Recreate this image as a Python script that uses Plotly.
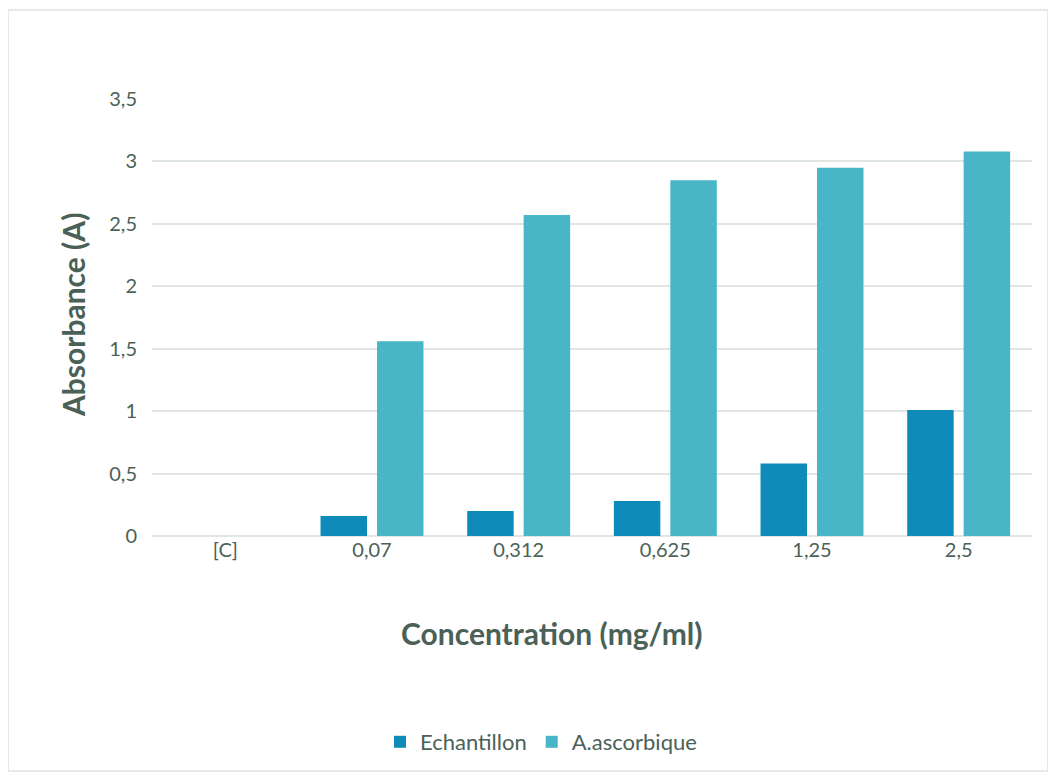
import plotly.graph_objects as go

categories = ["[C]", "0,07", "0,312", "0,625", "1,25", "2,5"]
echantillon = [0, 0.16, 0.20, 0.28, 0.58, 1.01]
ascorbique = [0, 1.56, 2.57, 2.85, 2.95, 3.08]
y_ticks = [0, 0.5, 1, 1.5, 2, 2.5, 3, 3.5]

# page body has an 8px margin: target pixel positions are shifted by OFF
OFF = 8
W, H = 1056, 773
L, R, T, B = 152 - OFF, 24 + OFF, 99 - OFF, 237 + OFF
pw, ph = W - L - R, H - T - B

def px_x(x):
    return (x - OFF - L) / pw

def px_y(y):
    return (H - B - (y - OFF)) / ph

text_color = "#4b6157"
font_family = "Lato, Open Sans, sans-serif"

fig = go.Figure()
fig.add_trace(go.Bar(
    x=categories, y=echantillon, name="Echantillon",
    marker=dict(color="#0e8bb8", line=dict(width=0)),
))
fig.add_trace(go.Bar(
    x=categories, y=ascorbique, name="A.ascorbique",
    marker=dict(color="#48b6c6", line=dict(width=0)),
))

fig.update_layout(
    width=W, height=H,
    margin=dict(l=L, r=R, t=T, b=B, autoexpand=False),
    paper_bgcolor="white", plot_bgcolor="white",
    separators=", ",
    barmode="group", bargap=0.23, bargroupgap=0.177,
    font=dict(family=font_family, color=text_color, size=20),
    showlegend=True,
    legend=dict(
        orientation="h", x=px_x(541), y=px_y(742),
        xanchor="center", yanchor="middle",
        font=dict(size=22, color=text_color),
        itemwidth=30, traceorder="normal",
    ),
    xaxis=dict(
        showgrid=False, showline=False, ticks="",
        tickfont=dict(size=20, color=text_color),
        ticklabelstandoff=0,
    ),
    yaxis=dict(
        range=[0, 3.5], tickvals=y_ticks,
        showgrid=True, gridcolor="#e0e6e3", gridwidth=1.5,
        zeroline=True, zerolinecolor="#e0e6e3", zerolinewidth=1.5,
        showline=False, ticks="",
        tickfont=dict(size=20, color=text_color),
        ticklabelstandoff=14,
    ),
    annotations=[
        dict(text="<b>Absorbance (A)</b>", xref="paper", yref="paper",
             x=px_x(73), y=px_y(315), textangle=-90, showarrow=False,
             xanchor="center", yanchor="middle",
             font=dict(size=30, color=text_color, family=font_family)),
        dict(text="<b>Concentration (mg/ml)</b>", xref="paper", yref="paper",
             x=px_x(552), y=px_y(633), showarrow=False,
             xanchor="center", yanchor="middle",
             font=dict(size=30, color=text_color, family=font_family)),
    ],
    shapes=[
        dict(type="rect", xref="paper", yref="paper",
             x0=px_x(8), x1=px_x(1048), y0=px_y(771), y1=px_y(10),
             line=dict(color="#dde3e0", width=1.5), fillcolor="rgba(0,0,0,0)",
             layer="below"),
    ],
)

fig.write_html("out.html")
